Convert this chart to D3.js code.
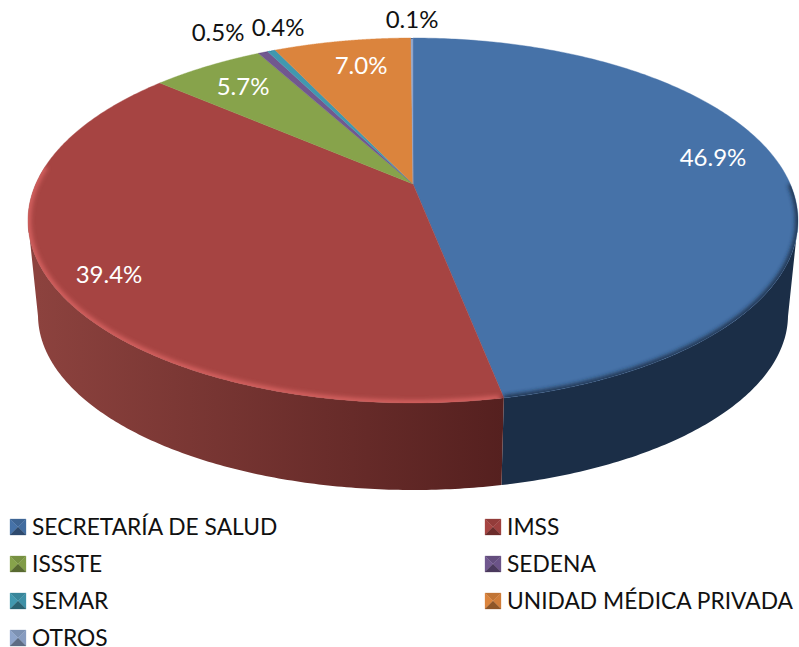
<!DOCTYPE html>
<html>
<head>
<meta charset="utf-8">
<script src="https://cdn.jsdelivr.net/npm/d3@7"></script>
<style>
  html, body { margin: 0; padding: 0; background: #fff; }
  text { font-family: Lato, "Open Sans", sans-serif; }
</style>
</head>
<body>
<div id="main"></div>
<script>
const categories = ["SECRETARÍA DE SALUD", "IMSS", "ISSSTE", "SEDENA", "SEMAR", "UNIDAD MÉDICA PRIVADA", "OTROS"];
const values = [46.9, 39.4, 5.7, 0.5, 0.4, 7.0, 0.1];
const colors = ["#4672a8", "#a64442", "#87a34b", "#71588f", "#4198af", "#db843d", "#8ea5cb"];
const labelColors = ["#fff", "#fff", "#fff", "#111", "#111", "#fff", "#111"];
// label centres, layout only
const labelX = [713, 109, 243, 218, 278, 361, 412];
const labelY = [157, 274, 86, 32, 27, 65.5, 19];

const width = 799, height = 647;

const svg = d3.select("#main")
    .append("svg")
    .attr("width", width)
    .attr("height", height)
    .style("display", "block");

// top face and bottom rim, both in normalised disc coords
const xTop = d3.scaleLinear().domain([-1, 1]).range([28, 798]);
const yTop = d3.scaleLinear().domain([-1, 1]).range([38, 403]);
const xBottom = d3.scaleLinear().domain([-1, 1]).range([38, 788]);
const yBottom = d3.scaleLinear().domain([-1, 1]).range([140, 490]);

// perspective: the pie centre sits above the ellipse centre
const shift = -0.2;
function project(angle) {
    const sx = Math.sin(angle), sy = -Math.cos(angle);
    const d = 1 + shift * sy;
    return [sx * Math.sqrt(1 - shift * shift) / d, (sy + shift) / d];
}

const arcs = d3.pie().sort(null)(values);

function samples(a) {
    return d3.range(0, 241).map(i => project(a.startAngle + (a.endAngle - a.startAngle) * i / 240));
}

const line = d3.line();
const topPt = p => [xTop(p[0]), yTop(p[1])];
const bottomPt = p => [xBottom(p[0]), yBottom(p[1])];

const defs = svg.append("defs");

defs.append("filter").attr("id", "soft")
    .attr("x", "-5%").attr("y", "-5%").attr("width", "110%").attr("height", "110%")
    .append("feGaussianBlur").attr("stdDeviation", 2.2);

function sideGradient(id, from, to) {
    const g = defs.append("linearGradient").attr("id", id)
        .attr("gradientUnits", "userSpaceOnUse")
        .attr("x1", xBottom(-1)).attr("x2", xTop(0.235)).attr("y1", 0).attr("y2", 0);
    g.append("stop").attr("offset", 0).attr("stop-color", from);
    g.append("stop").attr("offset", 1).attr("stop-color", to);
}
sideGradient("side1", "#8c423e", "#55201f");

defs.append("clipPath").attr("id", "faceClip")
    .append("path")
    .attr("d", line(d3.range(0, 361).map(i => project(i * Math.PI / 180)).map(topPt)) + "Z");

// side wall
const wall = svg.append("g");
arcs.forEach((a, i) => {
    const front = samples(a).filter(p => p[1] >= 0);
    if (!front.length) return;
    const pts = front.map(topPt).concat(front.slice().reverse().map(bottomPt));
    wall.append("path")
        .attr("d", line(pts) + "Z")
        .attr("fill", i === 0 ? "#1b2e47" : `url(#side${i})`);
});

// top face
const face = svg.append("g");
arcs.forEach((a, i) => {
    const pts = [[0, shift]].concat(samples(a)).map(topPt);
    face.append("path")
        .attr("d", line(pts) + "Z")
        .attr("fill", colors[i])
        .attr("stroke", colors[i])
        .attr("stroke-width", 0.4);
});

// rim bevel, light on the red slice, dark on the blue one
const rim = svg.append("g").attr("clip-path", "url(#faceClip)");
rim.append("path")
    .attr("d", line(samples(arcs[1]).filter(p => p[0] < 0.235 && p[1] > -0.3).map(topPt)))
    .attr("fill", "none")
    .attr("stroke", "#d4605e")
    .attr("stroke-width", 6)
    .attr("filter", "url(#soft)");
rim.append("path")
    .attr("d", line(samples(arcs[0]).filter(p => p[1] > -0.2).map(topPt)))
    .attr("fill", "none")
    .attr("stroke", "#1b2e47")
    .attr("stroke-width", 5)
    .attr("filter", "url(#soft)");

// value labels
svg.append("g").selectAll("text")
    .data(values)
    .join("text")
    .attr("x", (d, i) => labelX[i])
    .attr("y", (d, i) => labelY[i])
    .attr("dy", "0.36em")
    .attr("text-anchor", "middle")
    .attr("font-size", 24)
    .attr("fill", (d, i) => labelColors[i])
    .text(d => d.toFixed(1) + "%");

// legend, two columns filled row by row
const legendX = d3.scaleOrdinal().domain([0, 1]).range([10, 485]);
const legendY = d3.scaleLinear().domain([0, 3]).range([527, 638]);
const box = 16;

const items = svg.append("g").selectAll("g")
    .data(categories)
    .join("g")
    .attr("transform", (d, i) => `translate(${legendX(i % 2)},${legendY(Math.floor(i / 2))})`);

items.each(function (d, i) {
    const g = d3.select(this), c = d3.color(colors[i]), h = box / 2;
    const tris = [
        [[0, -h], [box, -h], [h, 0], c.darker(0.35)],
        [[0, -h], [h, 0], [0, h], c],
        [[box, -h], [h, 0], [box, h], c.darker(0.15)],
        [[0, h], [h, 0], [box, h], c.darker(1.2)]
    ];
    tris.forEach(t => {
        g.append("path")
            .attr("d", line(t.slice(0, 3)) + "Z")
            .attr("fill", t[3])
            .attr("stroke", t[3])
            .attr("stroke-width", 0.3);
    });
    g.append("text")
        .attr("transform", "translate(22,7.5) scale(0.95,1)")
        .attr("font-size", 24)
        .attr("fill", "#111")
        .text(d);
});
</script>
</body>
</html>
